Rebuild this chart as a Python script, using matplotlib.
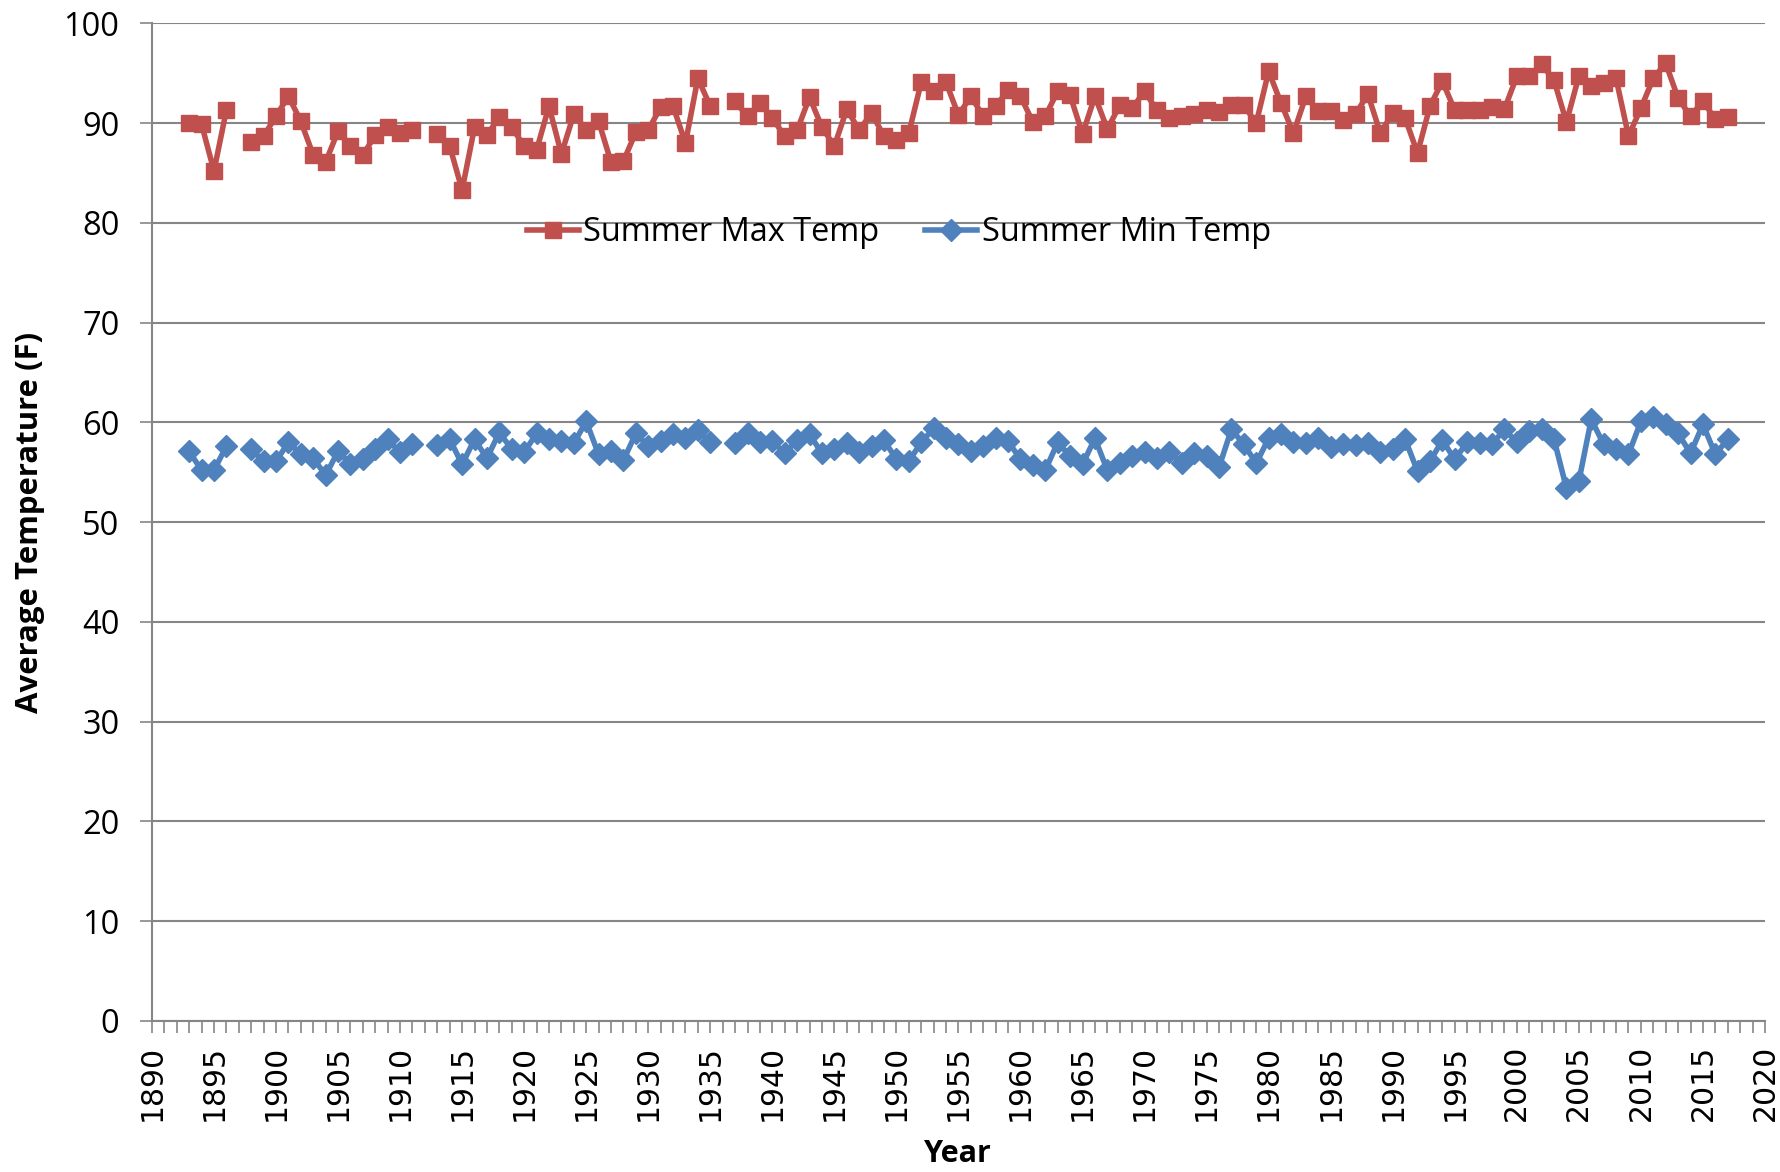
import numpy as np
import matplotlib
matplotlib.use("Agg")
import matplotlib.pyplot as plt
from matplotlib.ticker import MultipleLocator

nan = np.nan

# years 1893-2017 (1897, 1912, 1936 missing)
years = list(range(1893, 2018))

max_temp = [
    90.0, 89.9, 85.2, 91.3, nan, 88.1, 88.7,
    90.7, 92.7, 90.2, 86.8, 86.1, 89.2, 87.7, 86.8, 88.8, 89.6,
    89.0, 89.3, nan, 88.9, 87.7, 83.3, 89.6, 88.8, 90.6, 89.6,
    87.7, 87.3, 91.7, 86.9, 90.9, 89.3, 90.2, 86.1, 86.2, 89.1,
    89.3, 91.6, 91.7, 88.0, 94.5, 91.7, nan, 92.2, 90.7, 92.0,
    90.5, 88.7, 89.3, 92.6, 89.6, 87.7, 91.4, 89.3, 91.0, 88.7,
    88.3, 89.0, 94.1, 93.2, 94.1, 90.8, 92.7, 90.7, 91.7, 93.3,
    92.7, 90.1, 90.7, 93.2, 92.8, 88.9, 92.7, 89.4, 91.8, 91.5,
    93.2, 91.3, 90.5, 90.7, 90.9, 91.3, 91.1, 91.8, 91.8, 90.0,
    95.2, 92.0, 89.0, 92.7, 91.2, 91.2, 90.3, 90.9, 92.9, 89.0,
    91.0, 90.5, 87.0, 91.7, 94.2, 91.3, 91.3, 91.3, 91.6, 91.4,
    94.7, 94.7, 95.9, 94.3, 90.1, 94.7, 93.7, 94.0, 94.5, 88.7,
    91.5, 94.5, 96.0, 92.5, 90.7, 92.2, 90.4, 90.6,
]

min_temp = [
    57.1, 55.2, 55.2, 57.6, nan, 57.3, 56.1,
    56.1, 58.0, 56.8, 56.4, 54.7, 57.1, 55.8, 56.3, 57.3, 58.3,
    57.0, 57.8, nan, 57.7, 58.3, 55.8, 58.3, 56.4, 59.0, 57.3,
    57.0, 58.9, 58.3, 58.1, 57.9, 60.1, 56.8, 57.1, 56.2, 58.9,
    57.6, 58.1, 58.8, 58.4, 59.2, 58.0, nan, 57.9, 58.9, 58.0,
    58.1, 56.9, 58.2, 58.8, 56.9, 57.3, 57.9, 57.0, 57.6, 58.2,
    56.3, 56.1, 58.0, 59.4, 58.4, 57.8, 57.1, 57.6, 58.4, 58.1,
    56.3, 55.7, 55.2, 58.0, 56.6, 55.8, 58.4, 55.2, 55.9, 56.6,
    57.0, 56.4, 57.0, 55.9, 56.9, 56.6, 55.5, 59.3, 57.8, 55.9,
    58.4, 58.8, 58.0, 57.9, 58.4, 57.5, 57.8, 57.7, 57.9, 57.0,
    57.3, 58.3, 55.1, 56.1, 58.2, 56.3, 58.0, 57.9, 57.8, 59.3,
    58.0, 59.1, 59.3, 58.3, 53.4, 54.1, 60.3, 57.8, 57.3, 56.8,
    60.1, 60.5, 59.8, 58.9, 56.9, 59.8, 56.8, 58.3,
]

red = "#C0504D"
blue = "#4F81BD"
gray = "#868686"
txt_font = "Open Sans"

fig = plt.figure(figsize=(17.81, 11.72), dpi=100)
ax = fig.add_axes([0.0853, 0.129, 0.9057, 0.851])

ax.plot(years, max_temp, color=red, lw=4, marker="s", ms=11,
        label="Summer Max Temp")
ax.plot(years, min_temp, color=blue, lw=4, marker="D", ms=11.5,
        label="Summer Min Temp")

ax.set_xlim(1890, 2020)
ax.set_ylim(0, 100)
ax.xaxis.set_major_locator(MultipleLocator(5))
ax.xaxis.set_minor_locator(MultipleLocator(1))
ax.yaxis.set_major_locator(MultipleLocator(10))

ax.grid(axis="y", color=gray, lw=1.5)
ax.set_axisbelow(True)
for s in ["top", "right"]:
    ax.spines[s].set_visible(False)
for s in ["left", "bottom"]:
    ax.spines[s].set_color(gray)
    ax.spines[s].set_linewidth(1.5)

ax.tick_params(axis="x", which="both", length=8.4, width=1.2, color=gray,
               labelsize=21.5, labelrotation=90, pad=9)
ax.tick_params(axis="y", length=8.4, width=1.2, color=gray, labelsize=23.5,
               pad=15)
for lab in ax.get_yticklabels():
    lab.set_fontfamily(txt_font)
for lab in ax.get_xticklabels():
    lab.set_fontfamily("DejaVu Sans")

ax.set_xlabel("Year", fontsize=22, fontweight="bold", family=txt_font)
ax.set_ylabel("Average Temperature (F)", fontsize=22.4, fontweight="bold",
              family=txt_font)
ax.xaxis.set_label_coords(0.4995, -0.119)
ax.yaxis.set_label_coords(-0.066, 0.5)

leg = ax.legend(loc="center", bbox_to_anchor=(0.463, 0.79), ncol=2,
                frameon=False, prop={"family": txt_font, "size": 23.4},
                handlelength=1.6, handletextpad=0.15, columnspacing=1.4)

fig.savefig("out.png", dpi=100)
